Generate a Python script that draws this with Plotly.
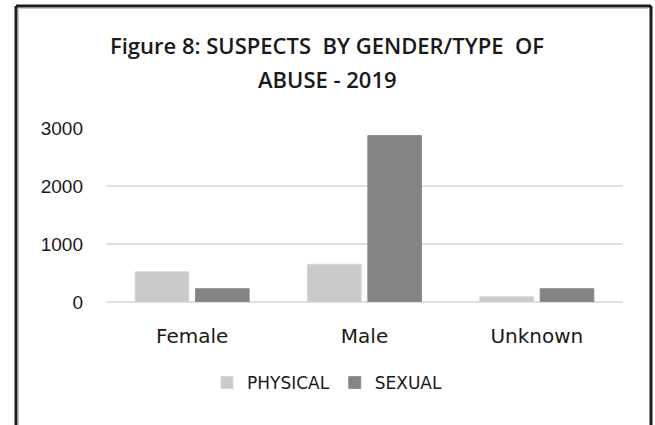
import plotly.graph_objects as go

# Suspects by gender and type of abuse, 2019
categories = ["Female", "Male", "Unknown"]
physical = [520, 650, 90]
sexual = [230, 2870, 230]
y_ticks = [0, 1000, 2000, 3000]

title_line1 = "Figure 8: SUSPECTS  BY GENDER/TYPE  OF"
title_line2 = "ABUSE - 2019"

fig = go.Figure()
fig.add_trace(go.Bar(
    name="PHYSICAL", x=categories, y=physical,
    marker=dict(color="#cacaca", line=dict(color="#d6d6d6", width=1)),
))
fig.add_trace(go.Bar(
    name="SEXUAL", x=categories, y=sexual,
    marker=dict(color="#848484", line=dict(color="#8e8e8e", width=1)),
))

W, H = 655, 425
L, R, T, B = 106, 32, 128, 123
pw, ph = W - L - R, H - T - B


def px_x(v):
    return (v - L) / pw


def px_y(v):
    return (H - B - v) / ph


# frame around the chart (open at the bottom edge)
frame = dict(color="#1c1c1c", width=3)
inner = dict(color="#c8c8c8", width=1)
shapes = [
    dict(type="line", xref="paper", yref="paper", x0=px_x(16), x1=px_x(16), y0=px_y(6), y1=px_y(440), line=frame),
    dict(type="line", xref="paper", yref="paper", x0=px_x(16), x1=px_x(651), y0=px_y(6), y1=px_y(6), line=frame),
    dict(type="line", xref="paper", yref="paper", x0=px_x(651), x1=px_x(651), y0=px_y(6), y1=px_y(440), line=frame),
    dict(type="line", xref="paper", yref="paper", x0=px_x(18.5), x1=px_x(648.5), y0=px_y(8.5), y1=px_y(8.5), line=inner),
    dict(type="line", xref="paper", yref="paper", x0=px_x(18.5), x1=px_x(18.5), y0=px_y(8.5), y1=px_y(440), line=inner),
]

title_font = dict(family="Open Sans", size=22, color="#1a1a1a", weight=600)
annotations = [
    dict(text=title_line1, xref="paper", yref="paper", x=px_x(327), y=px_y(45),
         showarrow=False, xanchor="center", yanchor="middle", font=title_font),
    dict(text=title_line2, xref="paper", yref="paper", x=px_x(327), y=px_y(79),
         showarrow=False, xanchor="center", yanchor="middle", font=title_font),
]

fig.update_layout(
    width=W, height=H,
    margin=dict(l=L, r=R, t=T, b=B, pad=0),
    paper_bgcolor="white", plot_bgcolor="white",
    barmode="group", bargap=0.30, bargroupgap=0.11,
    showlegend=True,
    legend=dict(orientation="h", x=px_x(327), xanchor="center", y=px_y(383), yanchor="middle",
                font=dict(family="DejaVu Sans", size=17, color="#1a1a1a"),
                itemwidth=30, traceorder="normal"),
    shapes=shapes,
    annotations=annotations,
    font=dict(family="DejaVu Sans", color="#1a1a1a"),
)
fig.update_xaxes(showgrid=False, showline=False, ticks="", tickfont=dict(size=20, family="DejaVu Sans"),
                 ticklabelstandoff=20)
fig.update_yaxes(range=[0, 3000], tickvals=y_ticks, showgrid=True, gridcolor="#dde1e7", gridwidth=1.5,
                 zeroline=True, zerolinecolor="#dde1e7", zerolinewidth=1.5, showline=False, ticks="",
                 tickfont=dict(size=19, family="Liberation Sans"), ticklabelstandoff=22)

fig.write_html("out.html")
